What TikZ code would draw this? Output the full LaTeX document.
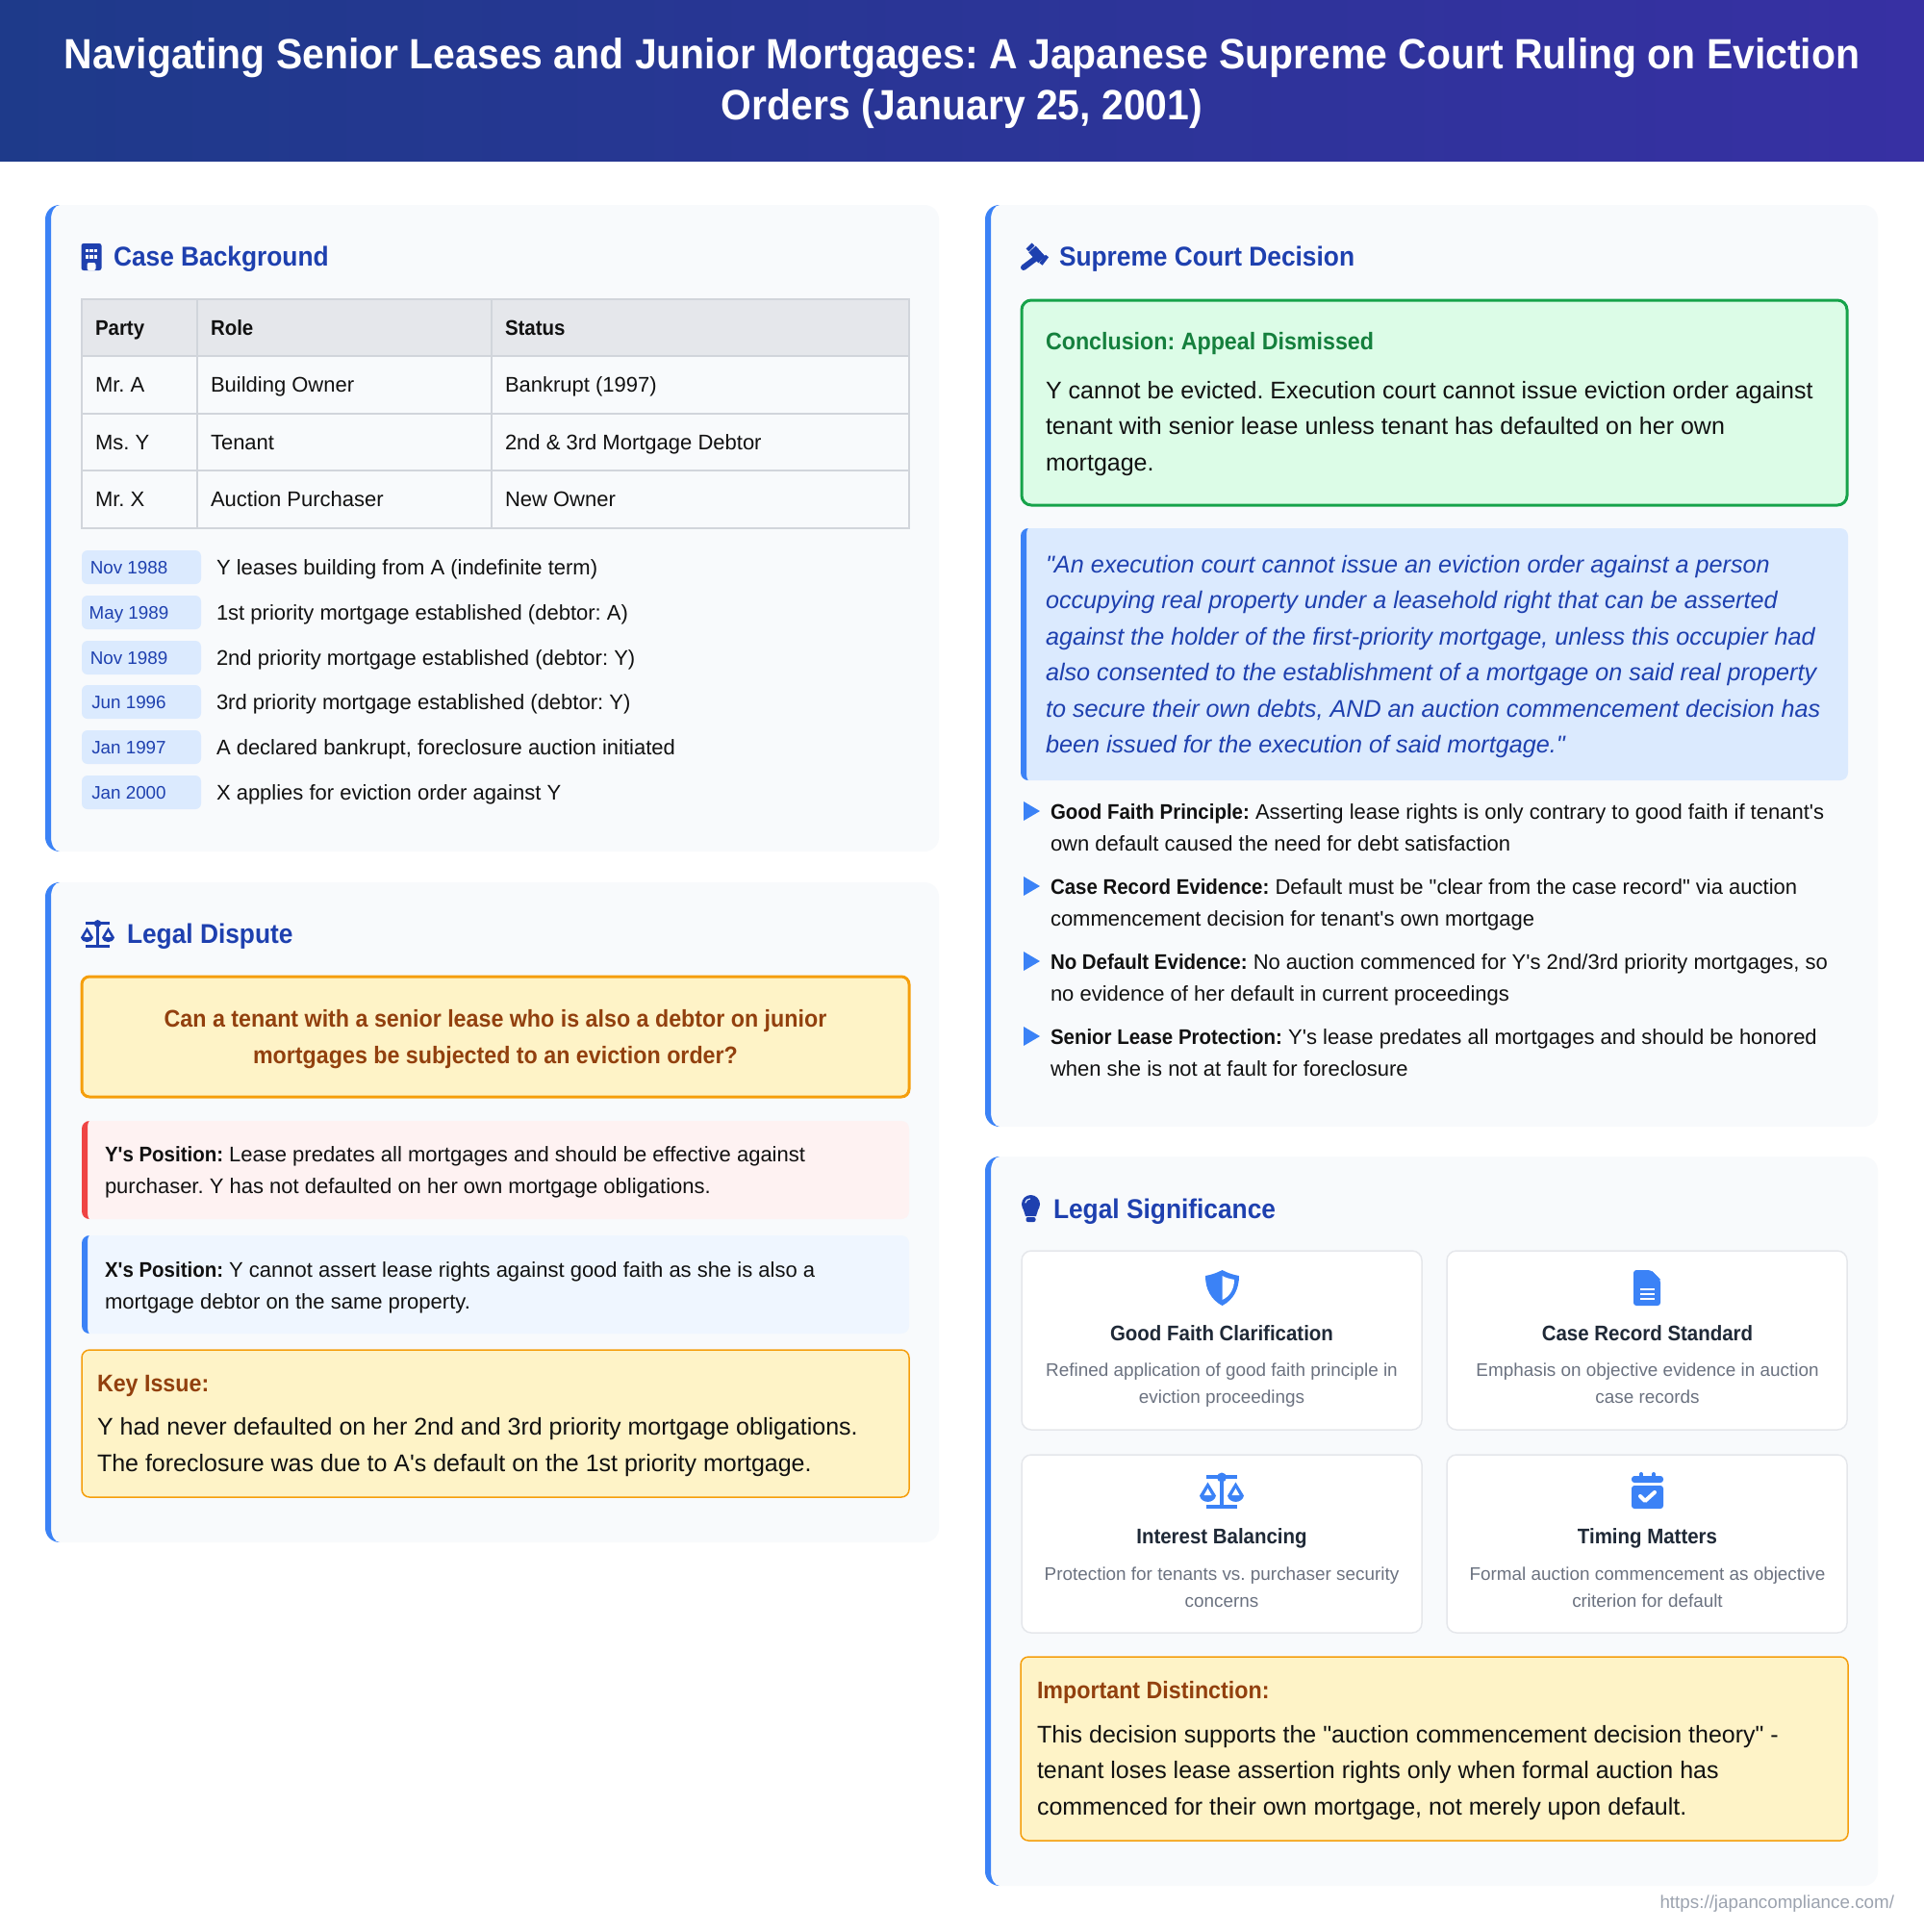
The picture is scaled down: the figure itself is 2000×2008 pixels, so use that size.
\documentclass[tikz,border=0pt]{standalone}
\usepackage{fontspec}
\setmainfont[Ligatures=TeXOff, BoldFeatures={FakeStretch=0.93}]{Liberation Sans}
\usetikzlibrary{positioning}

\definecolor{HeadA}{HTML}{1E3A8A}
\definecolor{HeadB}{HTML}{3730A3}
\definecolor{PanelBg}{HTML}{F8FAFC}
\definecolor{Accent}{HTML}{3B82F6}
\definecolor{Navy}{HTML}{1E40AF}
\definecolor{Ink}{HTML}{111111}
\definecolor{Line}{HTML}{D1D5DB}
\definecolor{HeadRow}{HTML}{E5E7EB}
\definecolor{Pill}{HTML}{DBEAFE}
\definecolor{Amber}{HTML}{F59E0B}
\definecolor{AmberBg}{HTML}{FEF3C7}
\definecolor{Rust}{HTML}{92400E}
\definecolor{RedBar}{HTML}{EF4444}
\definecolor{RedBg}{HTML}{FEF2F2}
\definecolor{BlueBg}{HTML}{EFF6FF}
\definecolor{GreenLine}{HTML}{16A34A}
\definecolor{GreenBg}{HTML}{DCFCE7}
\definecolor{GreenText}{HTML}{15803D}
\definecolor{CardTitle}{HTML}{1F2937}
\definecolor{CardText}{HTML}{6B7280}
\definecolor{Footer}{HTML}{9CA3AF}

\newcommand{\LeftBar}[6]{\fill[#6] ({#1+#5},#2) .. controls ({#1+0.45*#5},#2) and (#1,{#2+0.45*#5}) .. (#1,{#2+#5}) -- (#1,{#3-#5}) .. controls (#1,{#3-0.45*#5}) and ({#1+0.45*#5},#3) .. ({#1+#5},#3) .. controls ({#1+#4+0.45*(#5-#4)},#3) and ({#1+#4},{#3-0.45*#5}) .. ({#1+#4},{#3-#5}) -- ({#1+#4},{#2+#5}) .. controls ({#1+#4},{#2+0.45*#5}) and ({#1+#4+0.45*(#5-#4)},#2) .. ({#1+#5},#2) -- cycle;}

\newcommand{\ScaleIcon}[5]{
	\begin{scope}[shift={(#1,#2)}, x=#3*0.5pt, y=-#3*0.5pt]
		\draw [#4, line width=#3*2.2pt] (-16,-14.5) -- (16,-14.5);
		\draw [#4, line width=#3*2pt] (-16,16.5) -- (16,16.5);
		\draw [#4, line width=#3*2.4pt] (0,-14) -- (0,16);
		\fill [#4] (0,-14) circle [radius=5];
		\fill [#4] (-14.5,-9) -- (-23,5) .. controls (-21,13.5) and (-8,13.5) .. (-6,5) -- cycle;
		\fill [#4] (14.5,-9) -- (23,5) .. controls (21,13.5) and (8,13.5) .. (6,5) -- cycle;
		\fill [#5] (-14.5,-2.5) -- (-18.5,4.5) -- (-10.5,4.5) -- cycle;
		\fill [#5] (14.5,-2.5) -- (18.5,4.5) -- (10.5,4.5) -- cycle;
	\end{scope}
}

\begin{document}
\frenchspacing
\begin{tikzpicture}[x=0.5pt, y=-0.5pt]
	\tikzstyle{Txt}		= [inner sep=0pt, outer sep=0pt, anchor=base west, align=left, text=Ink]
	\tikzstyle{Title}	= [inner sep=0pt, anchor=base, align=center, text=white, font=\fontsize{22}{26.25}\selectfont\bfseries]
	\tikzstyle{Section}	= [Txt, text=Navy, font=\fontsize{14.15}{18}\selectfont\bfseries]
	\tikzstyle{Body}	= [Txt, font=\fontsize{11}{16.4}\selectfont]
	\tikzstyle{Large}	= [Txt, font=\fontsize{12.5}{18.7}\selectfont]
	\tikzstyle{LargeB}	= [Large, text=Rust, font=\fontsize{12.5}{18.7}\selectfont\bfseries]
	\tikzstyle{Date}	= [Txt, anchor=base, text=Navy, font=\fontsize{9.4}{12}\selectfont]
	\tikzstyle{CardHead}	= [Txt, anchor=base, align=center, text=CardTitle, font=\fontsize{11}{14}\selectfont\bfseries]
	\tikzstyle{CardBody}	= [Txt, anchor=base, align=center, text=CardText, font=\fontsize{9.45}{14.1}\selectfont]
	\tikzstyle{Callout}	= [fill=AmberBg, draw=Amber, rounded corners=4pt]
	\tikzstyle{Card}	= [fill=white, draw=HeadRow, line width=0.75pt, rounded corners=5pt]
	\tikzstyle{Bullet}	= [fill=Accent]

	\useasboundingbox (0,0) rectangle (2000,2008);
	\fill[white] (0,0) rectangle (2000,2008);

	\shade[left color=HeadA, right color=HeadB] (0,0) rectangle (2000,167);
	\node (title) at (1000,124) [Title] {Navigating Senior Leases and Junior Mortgages: A Japanese Supreme Court Ruling on Eviction\\Orders (January 25, 2001)};

	\fill[PanelBg, rounded corners=7.5pt] (47,213) rectangle (976,885);
	\LeftBar{47}{213}{885}{6}{15}{Accent}
	\fill[PanelBg, rounded corners=7.5pt] (47,917) rectangle (976,1603);
	\LeftBar{47}{917}{1603}{6}{15}{Accent}
	\fill[PanelBg, rounded corners=7.5pt] (1024,213) rectangle (1952,1171);
	\LeftBar{1024}{213}{1171}{6}{15}{Accent}
	\fill[PanelBg, rounded corners=7.5pt] (1024,1202) rectangle (1952,1960);
	\LeftBar{1024}{1202}{1960}{6}{15}{Accent}

	% case background
	\fill[Navy, rounded corners=1.2pt] (84.5,253) rectangle (105.5,281);
	\foreach \wx in {90.7,95,99.3}
		\foreach \wy in {260.5,267}
			\fill[PanelBg] (\wx-1.6,\wy-1.6) rectangle (\wx+1.6,\wy+1.6);
	\fill[PanelBg, rounded corners=1pt] (90.5,281) -- (90.5,273) -- (99.5,273) -- (99.5,281) -- cycle;
	\node (caseHead) at (118,276) [Section] {Case Background};

	\fill[HeadRow] (85,311) rectangle (945,370);
	\draw[Line, line width=0.75pt] (85,311) rectangle (945,549);
	\draw[Line, line width=0.75pt] (85,370) -- (945,370);
	\draw[Line, line width=0.75pt] (85,430) -- (945,430);
	\draw[Line, line width=0.75pt] (85,489) -- (945,489);
	\draw[Line, line width=0.75pt] (205,311) -- (205,549);
	\draw[Line, line width=0.75pt] (511,311) -- (511,549);
	\node (party) at (99,348) [Body] {\bfseries Party};
	\node (role) at (219,348) [Body] {\bfseries Role};
	\node (status) at (525,348) [Body] {\bfseries Status};
	\node (rowA) at (99,407.5) [Body] {Mr. A};
	\node (roleA) at (219,407.5) [Body] {Building Owner};
	\node (statusA) at (525,407.5) [Body] {Bankrupt (1997)};
	\node (rowY) at (99,467.5) [Body] {Ms. Y};
	\node (roleY) at (219,467.5) [Body] {Tenant};
	\node (statusY) at (525,467.5) [Body] {2nd \& 3rd Mortgage Debtor};
	\node (rowX) at (99,526.5) [Body] {Mr. X};
	\node (roleX) at (219,526.5) [Body] {Auction Purchaser};
	\node (statusX) at (525,526.5) [Body] {New Owner};

	\fill[Pill, rounded corners=3pt] (85,572) rectangle (209,607);
	\fill[Pill, rounded corners=3pt] (85,619) rectangle (209,654);
	\fill[Pill, rounded corners=3pt] (85,666) rectangle (209,701);
	\fill[Pill, rounded corners=3pt] (85,712) rectangle (209,747);
	\fill[Pill, rounded corners=3pt] (85,759) rectangle (209,794);
	\fill[Pill, rounded corners=3pt] (85,806) rectangle (209,841);
	\node (dateA) at (134,596) [Date] {Nov 1988};
	\node (dateB) at (134,643) [Date] {May 1989};
	\node (dateC) at (134,690) [Date] {Nov 1989};
	\node (dateD) at (134,736) [Date] {Jun 1996};
	\node (dateE) at (134,783) [Date] {Jan 1997};
	\node (dateF) at (134,830) [Date] {Jan 2000};
	\node (eventA) at (225,597) [Body] {Y leases building from A (indefinite term)};
	\node (eventB) at (225,644) [Body] {1st priority mortgage established (debtor: A)};
	\node (eventC) at (225,691) [Body] {2nd priority mortgage established (debtor: Y)};
	\node (eventD) at (225,737) [Body] {3rd priority mortgage established (debtor: Y)};
	\node (eventE) at (225,784) [Body] {A declared bankrupt, foreclosure auction initiated};
	\node (eventF) at (225,831) [Body] {X applies for eviction order against Y};

	% legal dispute
	\ScaleIcon{101.5}{970.5}{0.76}{Navy}{PanelBg}
	\node (disputeHead) at (132,980) [Section] {Legal Dispute};

	\draw[Callout, line width=1.5pt] (85,1015) rectangle (945,1140);
	\node (question) at (515,1105) [LargeB, anchor=base, align=center] {Can a tenant with a senior lease who is also a debtor on junior\\mortgages be subjected to an eviction order?};

	\fill[RedBg, rounded corners=4pt] (85,1165) rectangle (945,1267);
	\LeftBar{85}{1165}{1267}{6}{8}{RedBar}
	\node (posY) at (109,1240) [Body] {\textbf{Y's Position:} Lease predates all mortgages and should be effective against\\purchaser. Y has not defaulted on her own mortgage obligations.};

	\fill[BlueBg, rounded corners=4pt] (85,1284) rectangle (945,1386);
	\LeftBar{85}{1284}{1386}{6}{8}{Accent}
	\node (posX) at (109,1360) [Body] {\textbf{X's Position:} Y cannot assert lease rights against good faith as she is also a\\mortgage debtor on the same property.};

	\draw[Callout, line width=0.75pt] (85,1403) rectangle (945,1556);
	\node (keyHead) at (101,1446) [LargeB] {Key Issue:};
	\node (keyText) at (101,1529) [Large] {Y had never defaulted on her 2nd and 3rd priority mortgage obligations.\\The foreclosure was due to A's default on the 1st priority mortgage.};

	% court decision
	\draw[Navy, line width=5pt] (1073,259) -- (1083,270);
	\draw[Navy, line width=2pt] (1068,260) -- (1074,254);
	\draw[Navy, line width=2pt] (1082,274.5) -- (1088.5,266);
	\draw[Navy, line width=3pt, line cap=round] (1064,278) -- (1076,269);
	\node (courtHead) at (1101,276) [Section] {Supreme Court Decision};

	\draw[fill=GreenBg, draw=GreenLine, line width=1.5pt, rounded corners=5pt] (1062,312) rectangle (1920,525);
	\node (concHead) at (1087,363) [LargeB, text=GreenText] {Conclusion: Appeal Dismissed};
	\node (concText) at (1087,489) [Large] {Y cannot be evicted. Execution court cannot issue eviction order against\\tenant with senior lease unless tenant has defaulted on her own\\mortgage.};

	\fill[Pill, rounded corners=4pt] (1061,549) rectangle (1921,811);
	\LeftBar{1061}{549}{811}{6}{8}{Accent}
	\node (holding) at (1087,782.5) [Large, text=Navy, font=\fontsize{12.6}{18.7}\selectfont\itshape] {"An execution court cannot issue an eviction order against a person\\occupying real property under a leasehold right that can be asserted\\against the holder of the first-priority mortgage, unless this occupier had\\also consented to the establishment of a mortgage on said real property\\to secure their own debts, AND an auction commencement decision has\\been issued for the execution of said mortgage."};

	\fill[Bullet] (1064,833) -- (1081,843) -- (1064,853) -- cycle;
	\fill[Bullet] (1064,911) -- (1081,921) -- (1064,931) -- cycle;
	\fill[Bullet] (1064,989) -- (1081,999) -- (1064,1009) -- cycle;
	\fill[Bullet] (1064,1067) -- (1081,1077) -- (1064,1087) -- cycle;
	\node (pointA) at (1092,884) [Body] {\textbf{Good Faith Principle:} Asserting lease rights is only contrary to good faith if tenant's\\own default caused the need for debt satisfaction};
	\node (pointB) at (1092,962) [Body] {\textbf{Case Record Evidence:} Default must be "clear from the case record" via auction\\commencement decision for tenant's own mortgage};
	\node (pointC) at (1092,1040) [Body] {\textbf{No Default Evidence:} No auction commenced for Y's 2nd/3rd priority mortgages, so\\no evidence of her default in current proceedings};
	\node (pointD) at (1092,1118) [Body] {\textbf{Senior Lease Protection:} Y's lease predates all mortgages and should be honored\\when she is not at fault for foreclosure};

	% legal significance
	\fill[Navy] (1071.5,1251.5) circle [radius=9.5];
	\fill[Navy] (1063.5,1256) -- (1079.5,1256) -- (1077,1264) -- (1066,1264) -- cycle;
	\fill[Navy, rounded corners=1pt] (1066.5,1265) rectangle (1076.5,1270);
	\draw[Pill, line width=0.6pt, line cap=round] (1066,1250) .. controls (1066,1248) and (1068,1246) .. (1070.5,1246);
	\node (sigHead) at (1095,1266) [Section] {Legal Significance};

	\draw[Card] (1062,1300) rectangle (1478,1486);
	\draw[Card] (1504,1300) rectangle (1920,1486);
	\draw[Card] (1062,1512) rectangle (1478,1697);
	\draw[Card] (1504,1512) rectangle (1920,1697);

	\fill[Accent] (1270.5,1320) .. controls (1276,1323) and (1282,1325) .. (1288,1326) .. controls (1288,1340) and (1282,1351) .. (1270.5,1357) .. controls (1259,1351) and (1253,1340) .. (1253,1326) .. controls (1259,1325) and (1265,1323) .. (1270.5,1320) -- cycle;
	\fill[white] (1270.5,1326) .. controls (1274,1328) and (1278,1329) .. (1283,1330) .. controls (1283,1339) and (1279,1347) .. (1270.5,1351) -- cycle;
	\node (cardA) at (1270,1393) [CardHead] {Good Faith Clarification};
	\node (cardAtext) at (1270,1458.5) [CardBody] {Refined application of good faith principle in\\eviction proceedings};

	\fill[Accent, rounded corners=1.5pt] (1698,1320) -- (1716,1320) -- (1726,1330) -- (1726,1357) -- (1698,1357) -- cycle;
	\fill[white] (1717,1319) -- (1727,1319) -- (1727,1329) -- cycle;
	\fill[Accent] (1717,1321) -- (1717,1330) -- (1726,1330) -- cycle;
	\draw[white, line width=1pt] (1705,1340) -- (1720,1340);
	\draw[white, line width=1pt] (1705,1345) -- (1720,1345);
	\draw[white, line width=1pt] (1705,1350) -- (1720,1350);
	\node (cardB) at (1712.5,1393) [CardHead] {Case Record Standard};
	\node (cardBtext) at (1712.5,1458.5) [CardBody] {Emphasis on objective evidence in auction\\case records};

	\ScaleIcon{1270}{1549.5}{1}{Accent}{white}
	\node (cardC) at (1270,1604) [CardHead] {Interest Balancing};
	\node (cardCtext) at (1270,1670.5) [CardBody] {Protection for tenants vs. purchaser security\\concerns};

	\fill[Accent, rounded corners=1.5pt] (1696,1534) rectangle (1729,1541);
	\fill[Accent, rounded corners=1.5pt] (1696,1544) rectangle (1729,1568);
	\draw[Accent, line width=2pt, line cap=round] (1706,1532) -- (1706,1536);
	\draw[Accent, line width=2pt, line cap=round] (1719,1532) -- (1719,1536);
	\draw[white, line width=2pt, line cap=round, line join=round] (1705,1555) -- (1710,1560) -- (1720,1551);
	\node (cardD) at (1712.5,1604) [CardHead] {Timing Matters};
	\node (cardDtext) at (1712.5,1670.5) [CardBody] {Formal auction commencement as objective\\criterion for default};

	\draw[Callout, line width=0.75pt] (1061,1722) rectangle (1921,1913);
	\node (distHead) at (1078,1765) [LargeB] {Important Distinction:};
	\node (distText) at (1078,1886) [Large] {This decision supports the "auction commencement decision theory" -\\tenant loses lease assertion rights only when formal auction has\\commenced for their own mortgage, not merely upon default.};

	\node (footer) at (1969,1983) [Txt, anchor=base east, text=Footer, font=\fontsize{9.4}{12}\selectfont] {https://japancompliance.com/};
\end{tikzpicture}
\end{document}
